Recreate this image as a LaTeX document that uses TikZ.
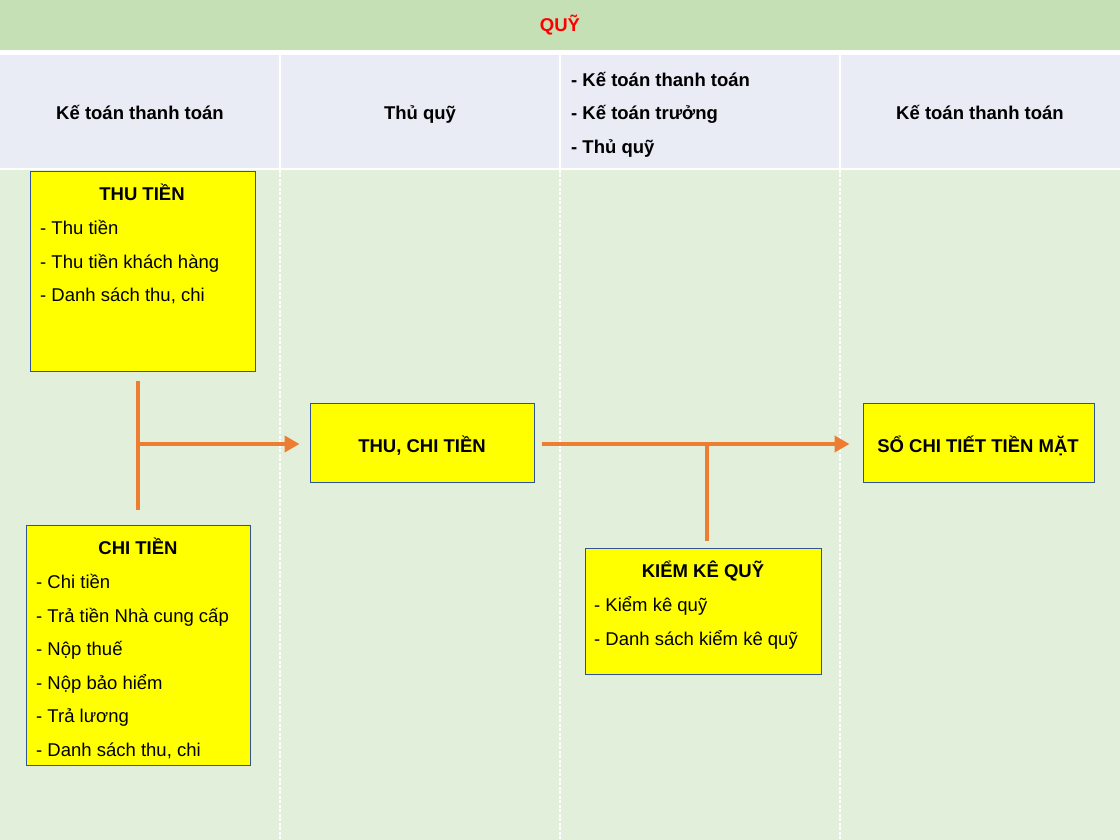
\documentclass[tikz,border=0pt]{standalone}
\usepackage{fontspec}
\setmainfont{Liberation Sans}
\usetikzlibrary{arrows.meta,calc}
\definecolor{titlegreen}{RGB}{197,224,180}
\definecolor{headblue}{RGB}{233,235,245}
\definecolor{bodygreen}{RGB}{226,239,218}
\definecolor{boxblue}{RGB}{47,85,151}
\definecolor{boxyellow}{RGB}{255,255,0}
\definecolor{connorange}{RGB}{237,125,49}
\definecolor{titlered}{RGB}{255,0,0}
\tikzset{
  ybox/.style={draw=boxblue, line width=1pt, fill=boxyellow, inner sep=0pt},
  headtxt/.style={font=\fontsize{18.5}{20}\selectfont\bfseries, inner sep=0pt, anchor=base},
  boxtitle/.style={font=\fontsize{18.5}{20}\selectfont\bfseries, inner sep=0pt, anchor=base},
  itemtxt/.style={font=\fontsize{18.5}{20}\selectfont, inner sep=0pt, anchor=base west},
  conn/.style={draw=connorange, line width=4pt},
  arr/.style={conn, -{Triangle[length=15pt,width=16pt]}},
  sep/.style={draw=white, line width=2pt},
  bodysep/.style={draw=white, line width=1.5pt, dash pattern=on 3pt off 1.5pt}
}
\begin{document}
\begin{tikzpicture}[x=1pt,y=-1pt]
\useasboundingbox (0,0) rectangle (1120,840);
\fill[white] (0,0) rectangle (1120,840);
% title band
\fill[titlegreen] (0,0) rectangle (1120,50);
\node[headtxt, text=titlered] (title) at (560,32) {QUỸ};
% header row
\fill[headblue] (0,55) rectangle (1120,168);
% body
\fill[bodygreen] (0,170) rectangle (1120,840);
\foreach \xx in {280,560,840}{
  \draw[sep] (\xx,55) -- (\xx,168);
  \draw[bodysep] (\xx,170) -- (\xx,840);
}
% header texts
\node[headtxt] (h1) at (140,119.5) {Kế toán thanh toán};
\node[headtxt] (h2) at (420,119.5) {Thủ quỹ};
\node[headtxt, anchor=base west] (h3a) at (571,86.5) {- Kế toán thanh toán};
\node[headtxt, anchor=base west] (h3b) at (571,119.5) {- Kế toán trưởng};
\node[headtxt, anchor=base west] (h3c) at (571,153.5) {- Thủ quỹ};
\node[headtxt] (h4) at (980,119.5) {Kế toán thanh toán};

% boxes
\node[ybox, minimum width=225pt, minimum height=199pt] (thu) at (142.5,271.5) {};
\node[ybox, minimum width=224pt, minimum height=240pt] (chi) at (138,645) {};
\node[ybox, minimum width=224pt, minimum height=79pt] (tc) at (422,442.5) {};
\node[ybox, minimum width=231pt, minimum height=79pt] (so) at (978.5,442.5) {};
\node[ybox, minimum width=236pt, minimum height=126pt] (kk) at (703,611) {};

% single-line box labels
\node[boxtitle] (tcT) at (422,452.5) {THU, CHI TIỀN};
\node[boxtitle] (soT) at (978,452.5) {SỔ CHI TIẾT TIỀN MẶT};

% THU TIEN content
\node[boxtitle] (thuT) at (142,200.5) {THU TIỀN};
\foreach \t [count=\i] in {{- Thu tiền},{- Thu tiền khách hàng},{- Danh sách thu,  chi}}
  \node[itemtxt] (thu-\i) at (40,{234.5+33.6*(\i-1)}) {\t};

% CHI TIEN content
\node[boxtitle] (chiT) at (138,554.5) {CHI TIỀN};
\foreach \t [count=\i] in {{- Chi tiền},{- Trả tiền Nhà cung cấp},{- Nộp thuế},{- Nộp bảo hiểm},{- Trả lương},{- Danh sách thu,  chi}}
  \node[itemtxt] (chi-\i) at (36,{588.5+33.6*(\i-1)}) {\t};

% KIEM KE QUY content
\node[boxtitle] (kkT) at (703,577.5) {KIỂM KÊ QUỸ};
\foreach \t [count=\i] in {{- Kiểm kê quỹ},{- Danh sách kiểm kê quỹ}}
  \node[itemtxt] (kk-\i) at (594,{611.5+33.6*(\i-1)}) {\t};

% connectors
\coordinate (j1) at (138,444);
\coordinate (j2) at (707,444);
\draw[conn] ([yshift=-9pt]thu.south -| j1) -- ([yshift=15pt]chi.north -| j1);
\draw[arr] (j1) -- ([xshift=-10pt]tc.west |- j1);
\draw[arr] ([xshift=7pt]tc.east |- j1) -- ([xshift=-13pt]so.west |- j1);
\draw[conn] (j2) -- ([yshift=7pt]kk.north -| j2);
\end{tikzpicture}
\end{document}
